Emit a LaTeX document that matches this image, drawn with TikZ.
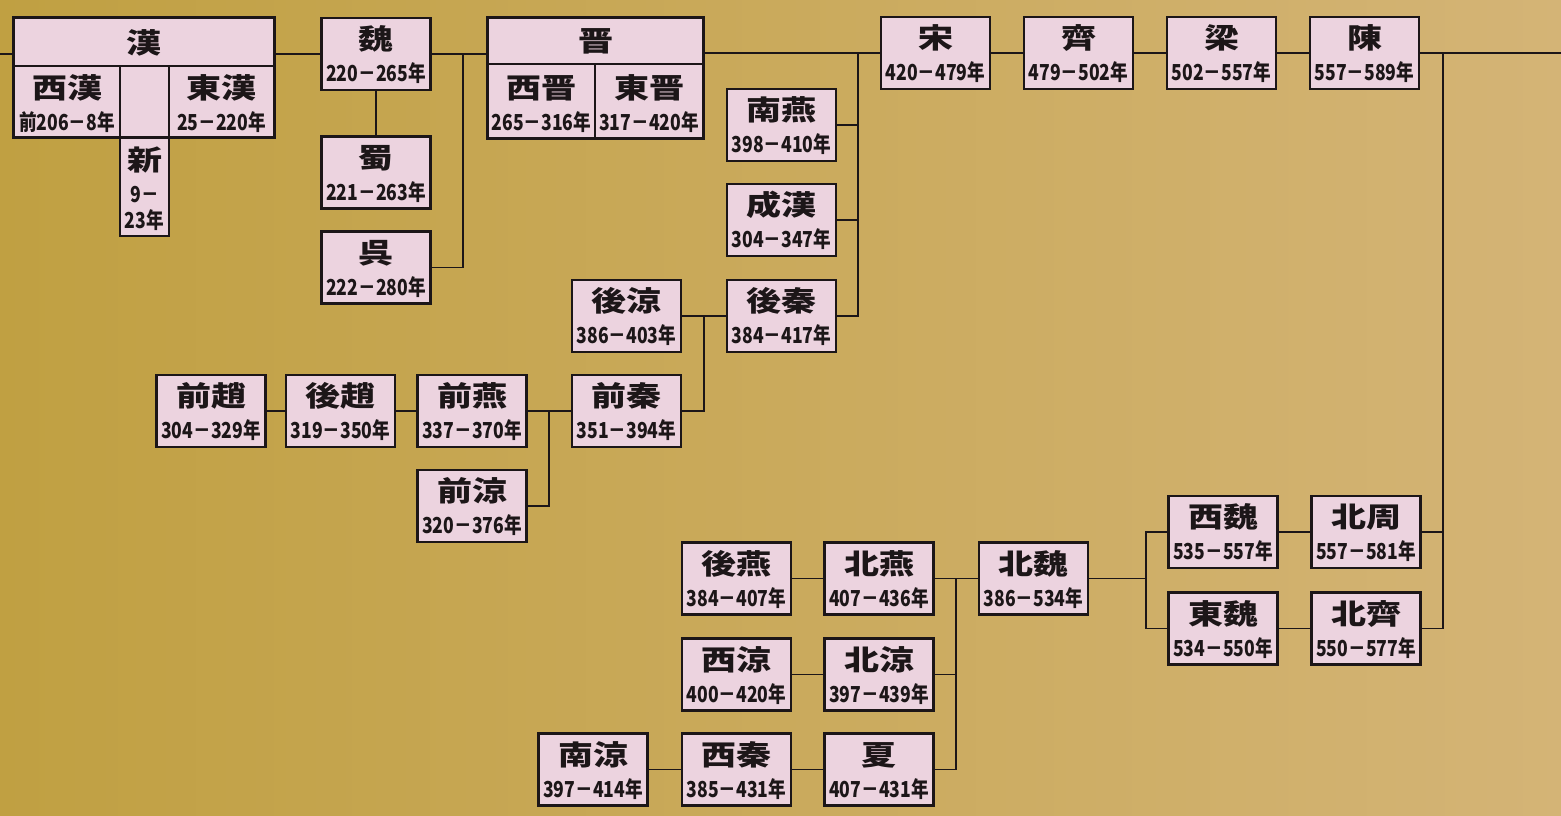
\documentclass[tikz,border=0pt]{standalone}
\usepackage{fontspec}
\usepackage{graphicx}
\usetikzlibrary{calc}
\newfontfamily\cjk{Noto Sans CJK JP}
\definecolor{bgL}{RGB}{192,160,66}
\definecolor{bgR}{RGB}{212,180,118}
\definecolor{pinkfill}{RGB}{236,211,223}
\definecolor{ink}{RGB}{28,22,24}
\newcommand\dname[1]{\scalebox{1.25}[1]{\fontsize{28}{28}\selectfont\cjk\bfseries #1}}
\newcommand\dyear[1]{\scalebox{0.8}[1]{\fontsize{22}{22}\selectfont\cjk\bfseries #1}}
\newcommand\dyn[5]{%
  \node[dbox] (#1) at (#2,#3) {};
  \node[ttl] (#1-t) at ([yshift=-33pt]#1.north) {\dname{#4}};
  \node[yrs] (#1-y) at ([yshift=-65pt]#1.north) {\dyear{#5}};
}
\begin{document}
\begin{tikzpicture}[x=1pt,y=-1pt,
  dbox/.style={draw=ink,fill=pinkfill,line width=2.8pt,minimum width=109pt,minimum height=72pt,inner sep=0pt},
  pbox/.style={draw=ink,fill=pinkfill,line width=1.8pt,inner sep=0pt},
  ttl/.style={anchor=base,inner sep=0pt,text=ink},
  yrs/.style={anchor=base,inner sep=0pt,text=ink},
  conn/.style={draw=ink,line width=1.8pt},
  outer/.style={draw=ink,line width=2.8pt}]
\shade[left color=bgL,right color=bgR] (0,0) rectangle (1561,815);
\useasboundingbox (0,0) rectangle (1561,815);

% Han composite
\node[pbox,minimum width=260pt,minimum height=48pt] (han) at (144,42) {};
\node[pbox,minimum width=106pt,minimum height=71pt] (xihan) at (67,101.5) {};
\node[pbox,minimum width=49pt,minimum height=71pt] (hanmid) at (144.5,101.5) {};
\node[pbox,minimum width=105pt,minimum height=71pt] (donghan) at (221.5,101.5) {};
\node[pbox,line width=2.8pt,minimum width=49pt,minimum height=99pt] (xin) at (144.5,186.5) {};
\draw[outer] (han.north west) rectangle (donghan.south east);
\node[ttl] (han-t) at (144,53) {\dname{漢}};
\node[ttl] (xihan-t) at (67,98) {\dname{西漢}};
\node[yrs] (xihan-y) at (67,130) {\dyear{前206－8年}};
\node[ttl] (donghan-t) at (221.5,98) {\dname{東漢}};
\node[yrs] (donghan-y) at (221.5,130) {\dyear{25－220年}};
\node[ttl] (xin-t) at (144.5,170) {\dname{新}};
\node[yrs] (xin-y1) at (144.5,202) {\dyear{9－}};
\node[yrs] (xin-y2) at (144.5,228) {\dyear{23年}};

% Jin composite
\node[pbox,minimum width=215pt,minimum height=46pt] (jin) at (595.5,41) {};
\node[pbox,minimum width=107pt,minimum height=74pt] (xijin) at (541.5,101) {};
\node[pbox,minimum width=108pt,minimum height=74pt] (dongjin) at (649,101) {};
\draw[outer] (jin.north west) rectangle (dongjin.south east);
\node[ttl] (jin-t) at (595.5,51) {\dname{晋}};
\node[ttl] (xijin-t) at (541.5,98) {\dname{西晋}};
\node[yrs] (xijin-y) at (541.5,130) {\dyear{265－316年}};
\node[ttl] (dongjin-t) at (649,98) {\dname{東晋}};
\node[yrs] (dongjin-y) at (649,130) {\dyear{317－420年}};

% standard boxes
\dyn{wei}{376}{54}{魏}{220－265年}
\dyn{shu}{376}{172.5}{蜀}{221－263年}
\dyn{wu}{376}{267.5}{呉}{222－280年}
\dyn{song}{935.5}{53}{宋}{420－479年}
\dyn{qi}{1078.5}{53}{齊}{479－502年}
\dyn{liang}{1221.5}{53}{梁}{502－557年}
\dyn{chen}{1364.5}{53}{陳}{557－589年}
\dyn{nanyan}{781.5}{125}{南燕}{398－410年}
\dyn{chenghan}{781.5}{220}{成漢}{304－347年}
\dyn{houqin}{781.5}{316}{後秦}{384－417年}
\dyn{houliang}{626.5}{316}{後涼}{386－403年}
\dyn{qianzhao}{211}{411}{前趙}{304－329年}
\dyn{houzhao}{340.5}{411}{後趙}{319－350年}
\dyn{qianyan}{472}{411}{前燕}{337－370年}
\dyn{qianqin}{626.5}{411}{前秦}{351－394年}
\dyn{qianliang}{472}{506}{前涼}{320－376年}
\dyn{houyan}{736.5}{578.5}{後燕}{384－407年}
\dyn{beiyan}{879}{578.5}{北燕}{407－436年}
\dyn{beiwei}{1033.5}{578.5}{北魏}{386－534年}
\dyn{xiliang}{736.5}{674.5}{西涼}{400－420年}
\dyn{beiliang}{879}{674.5}{北涼}{397－439年}
\dyn{nanliang}{593}{769.5}{南涼}{397－414年}
\dyn{xiqin}{736.5}{769.5}{西秦}{385－431年}
\dyn{xia}{879}{769.5}{夏}{407－431年}
\dyn{xiwei}{1223}{532}{西魏}{535－557年}
\dyn{beizhou}{1366}{532}{北周}{557－581年}
\dyn{dongwei}{1223}{628.5}{東魏}{534－550年}
\dyn{beiqi}{1366}{628.5}{北齊}{550－577年}

% connectors
\coordinate (L) at (0,54);
\coordinate (R) at (1561,53);
\coordinate (j1) at (463,54);
\coordinate (j2) at (858,53);
\coordinate (j3) at (1443,53);
\coordinate (j4) at ($(houliang.east)!0.5!(houqin.west)$);
\coordinate (j6) at ($(qianyan.east)!0.5!(qianqin.west)$);
\coordinate (j7) at ($(beiyan.east)!0.5!(beiwei.west)$);
\coordinate (j5) at (1146,578.5);

\draw[conn] (L) -- (L -| han.west);
\draw[conn] (wei.west -| han.east) -- (wei.west);
\draw[conn] (wei.south) -- (shu.north);
\draw[conn] (wei.east) -- (wei.east -| jin.west);
\draw[conn] (j1) |- (wu.east);
\draw[conn] (song.west -| jin.east) -- (song.west);
\draw[conn] (j2) |- (houqin.east);
\draw[conn] (nanyan.east) -- (nanyan.east -| j2);
\draw[conn] (chenghan.east) -- (chenghan.east -| j2);
\draw[conn] (song) -- (qi);
\draw[conn] (qi) -- (liang);
\draw[conn] (liang) -- (chen);
\draw[conn] (chen.east) -- (R);
\draw[conn] (j3) |- (beiqi.east);
\draw[conn] (beizhou.east) -- (beizhou.east -| j3);
\draw[conn] (houliang) -- (houqin);
\draw[conn] (qianqin.east) -| (j4);
\draw[conn] (qianzhao) -- (houzhao);
\draw[conn] (houzhao) -- (qianyan);
\draw[conn] (qianyan) -- (qianqin);
\draw[conn] (qianliang.east) -| (j6);
\draw[conn] (houyan) -- (beiyan);
\draw[conn] (beiyan) -- (beiwei);
\draw[conn] (xia.east) -| (j7);
\draw[conn] (beiliang.east) -- (beiliang.east -| j7);
\draw[conn] (xiliang) -- (beiliang);
\draw[conn] (nanliang) -- (xiqin);
\draw[conn] (xiqin) -- (xia);
\draw[conn] (beiwei.east) -- (j5);
\draw[conn] (xiwei.west) -| (j5) |- (dongwei.west);
\draw[conn] (xiwei) -- (beizhou);
\draw[conn] (dongwei) -- (beiqi);
\end{tikzpicture}
\end{document}
